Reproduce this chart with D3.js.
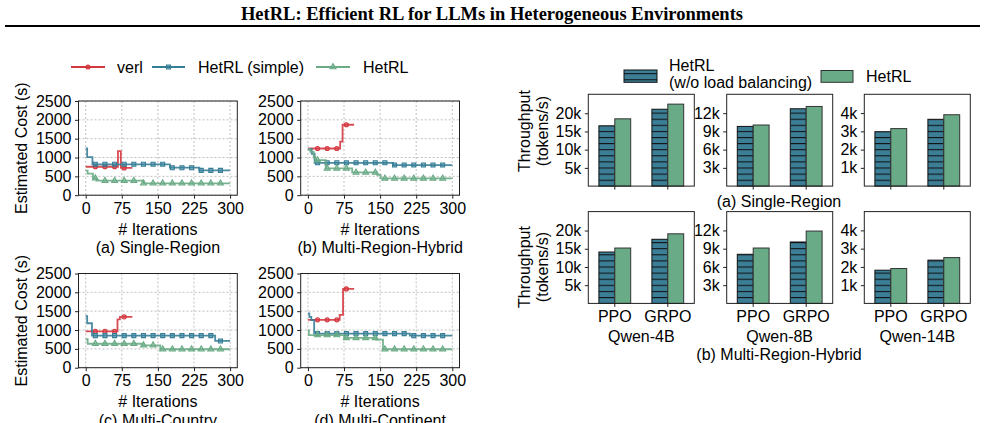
<!DOCTYPE html>
<html>
<head>
<meta charset="utf-8">
<script src="https://cdn.jsdelivr.net/npm/d3@7"></script>
<style>
  body { margin: 0; background: #fff; }
  svg { font-family: "Liberation Sans", Arial, Helvetica, sans-serif; }
</style>
</head>
<body>
<div id="chart"></div>
<script>
// ---- data ----
const titleText = "HetRL: Efficient RL for LLMs in Heterogeneous Environments";

const iterTicks = [0, 75, 150, 225, 300];
const costTicks = [0, 500, 1000, 1500, 2000, 2500];
const lineNames = ["verl", "HetRL (simple)", "HetRL"];
const lineColors = ["#d5373f", "#367e97", "#6aab86"];

// best-so-far cost as step change points [iteration, cost (s)], last point = end of run
const verlA   = [[0, 755], [67, 1170], [73, 725], [97, 725]];
const simpleA = [[0, 1240], [3, 1010], [14, 820], [175, 730], [236, 660], [300, 660]];
const hetrlA  = [[0, 650], [4, 570], [15, 450], [22, 385], [120, 315], [300, 315]];

const verlB   = [[0, 1240], [67, 1420], [72, 1870], [96, 1870]];
const simpleB = [[0, 1220], [8, 1100], [14, 860], [177, 800], [300, 800]];
const hetrlB  = [[0, 1220], [5, 1150], [12, 1000], [16, 930], [37, 710], [92, 605], [144, 540], [151, 445], [300, 445]];

const verlC   = [[0, 965], [66, 1280], [71, 1350], [97, 1350]];
const simpleC = [[0, 1370], [3, 1180], [13, 850], [269, 710], [300, 710]];
const hetrlC  = [[0, 755], [4, 635], [118, 595], [155, 490], [300, 490]];

const verlD   = [[0, 1270], [66, 1400], [73, 2090], [96, 2090]];
const simpleD = [[0, 1440], [3, 1350], [7, 1260], [13, 905], [212, 850], [300, 850]];
const hetrlD  = [[0, 990], [2, 866], [75, 790], [142, 745], [156, 490], [300, 490]];

// iterations that carry a marker
const verlMarks = [20, 40, 60, 80];
const otherMarks = [20, 40, 60, 80, 100, 120, 140, 160, 180, 200, 220, 240, 260, 280];

// throughput bars (tokens/s): [PPO, GRPO] per model
const models = ["Qwen-4B", "Qwen-8B", "Qwen-14B"];
const algos = ["PPO", "GRPO"];
const barNames = ["HetRL", "HetRL"];
const singleNoLB  = [[16550, 21100], [9820, 12720], [2980, 3660]];
const singleHetRL = [[18470, 22500], [10050, 13100], [3150, 3910]];
const hybridNoLB  = [[14100, 17600], [8080, 10100], [1820, 2370]];
const hybridHetRL = [[15200, 19100], [9110, 11900], [1910, 2510]];
const tpMax = [25200, 15100, 5030];
const tpTicks = [[5000, 10000, 15000, 20000], [3000, 6000, 9000, 12000], [1000, 2000, 3000, 4000]];
const tpTickLabels = [["5k", "10k", "15k", "20k"], ["3k", "6k", "9k", "12k"], ["1k", "2k", "3k", "4k"]];
const barColors = ["#3b7e95", "#6aab87"];

// ---- svg ----
const svg = d3.select("#chart").append("svg")
    .attr("width", 985)
    .attr("height", 423);

const defs = svg.append("defs");
const hatch = defs.append("pattern")
    .attr("id", "hatch")
    .attr("patternUnits", "userSpaceOnUse")
    .attr("width", 8)
    .attr("height", 6.1);
hatch.append("rect").attr("width", 8).attr("height", 6.1).attr("fill", barColors[0]);
hatch.append("line").attr("x1", 0).attr("x2", 8).attr("y1", 0.5).attr("y2", 0.5)
    .attr("stroke", "#111").attr("stroke-width", 1.1);

svg.append("text")
    .attr("x", 492).attr("y", 14).attr("dy", "0.35em")
    .attr("text-anchor", "middle")
    .style("font-family", "'Liberation Serif', 'Times New Roman', serif")
    .style("font-weight", "bold")
    .style("font-size", "18.5px")
    .text(titleText);

svg.append("line")
    .attr("x1", 5).attr("x2", 980).attr("y1", 26).attr("y2", 26)
    .attr("stroke", "#000").attr("stroke-width", 2);

const symbols = [d3.symbolCircle, d3.symbolSquare, d3.symbolTriangle];
const symSize = [13, 16, 15];

function stepValue(series, it) {
  let v = series[0][1];
  series.forEach(function(p) { if (p[0] <= it) v = p[1]; });
  return v;
}

function marker(g, i, x, y) {
  g.append("path")
    .attr("d", d3.symbol().type(symbols[i]).size(symSize[i])())
    .attr("transform", "translate(" + x + "," + y + ")")
    .attr("fill", lineColors[i])
    .attr("fill-opacity", 0.5)
    .attr("stroke", lineColors[i])
    .attr("stroke-width", 1.1);
}

// ---- line panels ----
const lw = 158.8, lh = 94.2;
const linePanels = [
  {left: 78.5, top: 101, label: "(a) Single-Region", ylab: true, data: [verlA, simpleA, hetrlA]},
  {left: 300.7, top: 101, label: "(b) Multi-Region-Hybrid", ylab: false, data: [verlB, simpleB, hetrlB]},
  {left: 78.5, top: 273.5, label: "(c) Multi-Country", ylab: true, data: [verlC, simpleC, hetrlC]},
  {left: 300.7, top: 273.5, label: "(d) Multi-Continent", ylab: false, data: [verlD, simpleD, hetrlD]}
];

linePanels.forEach(function(p) {
  const g = svg.append("g").attr("transform", "translate(" + p.left + "," + p.top + ")");
  const x = d3.scaleLinear().domain([-15, 315]).range([0, lw]);
  const y = d3.scaleLinear().domain([0, 2500]).range([lh, 0]);

  // grid
  g.selectAll(".gx").data(iterTicks).enter().append("line")
    .attr("x1", d => x(d)).attr("x2", d => x(d)).attr("y1", 0).attr("y2", lh)
    .attr("stroke", "#b0b0b0").attr("stroke-width", 0.8).attr("stroke-dasharray", "2,2");
  g.selectAll(".gy").data(costTicks).enter().append("line")
    .attr("x1", 0).attr("x2", lw).attr("y1", d => y(d)).attr("y2", d => y(d))
    .attr("stroke", "#b0b0b0").attr("stroke-width", 0.8).attr("stroke-dasharray", "2,2");

  const line = d3.line().curve(d3.curveStepAfter)
    .x(d => x(d[0])).y(d => y(d[1]));

  p.data.forEach(function(s, i) {
    g.append("path").datum(s)
      .attr("d", line)
      .attr("fill", "none")
      .attr("stroke", lineColors[i])
      .attr("stroke-width", 1.8)
      .attr("stroke-opacity", 0.9);
    const marks = i === 0 ? verlMarks : otherMarks;
    marks.forEach(function(it) { marker(g, i, x(it), y(stepValue(s, it))); });
  });

  g.append("rect").attr("width", lw).attr("height", lh)
    .attr("fill", "none").attr("stroke", "#222").attr("stroke-width", 1);

  const ya = g.append("g").call(d3.axisLeft(y).tickValues(costTicks).tickFormat(d3.format("d"))
    .tickSize(3.5).tickPadding(3.5));
  const xa = g.append("g").attr("transform", "translate(0," + lh + ")")
    .call(d3.axisBottom(x).tickValues(iterTicks).tickFormat(d3.format("d"))
      .tickSize(3.5).tickPadding(3.5));
  [ya, xa].forEach(function(a) {
    a.select(".domain").remove();
    a.selectAll("text").style("font-size", "16px").style("font-family", "'Liberation Sans', Arial, sans-serif").attr("fill", "#000");
    a.selectAll("line").attr("stroke", "#222");
  });

  g.append("text").attr("x", lw / 2).attr("y", lh + 34).attr("dy", "0.35em")
    .attr("text-anchor", "middle").style("font-size", "16px").text("# Iterations");
  g.append("text").attr("x", lw / 2).attr("y", lh + 52.5).attr("dy", "0.35em")
    .attr("text-anchor", "middle").style("font-size", "16px").text(p.label);

  if (p.ylab) {
    g.append("text")
      .attr("transform", "translate(" + (21 - p.left) + "," + (lh / 2) + ") rotate(-90)")
      .attr("dy", "0.35em")
      .attr("text-anchor", "middle").style("font-size", "16px")
      .text("Estimated Cost (s)");
  }
});

// line legend
const legX = [[71, 105, 117], [152, 185, 198], [316, 350, 363]];
lineNames.forEach(function(name, i) {
  const lg = svg.append("g");
  lg.append("line").attr("x1", legX[i][0]).attr("x2", legX[i][1]).attr("y1", 67).attr("y2", 67)
    .attr("stroke", lineColors[i]).attr("stroke-width", 1.8);
  marker(lg, i, (legX[i][0] + legX[i][1]) / 2, 67);
  lg.append("text").attr("x", legX[i][2]).attr("y", 67).attr("dy", "0.35em")
    .style("font-size", "16px").text(name);
});

// ---- bar panels ----
const bw = 106, bh = 91.8;
const barLefts = [588.3, 726.7, 864.3];
const barRows = [
  {top: 94.3, base: singleNoLB, het: singleHetRL, labels: false},
  {top: 211.6, base: hybridNoLB, het: hybridHetRL, labels: true}
];

barRows.forEach(function(r) {
  models.forEach(function(m, mi) {
    const g = svg.append("g").attr("transform", "translate(" + barLefts[mi] + "," + r.top + ")");
    const x = d3.scaleBand().domain(algos).range([0, bw]).padding(0);
    const y = d3.scaleLinear().domain([0, tpMax[mi]]).range([bh, 0]);
    const barW = x.bandwidth() * 0.3;

    [r.base[mi], r.het[mi]].forEach(function(vals, si) {
      g.selectAll(".b" + si).data(vals).enter().append("rect")
        .attr("x", (d, i) => x(algos[i]) + x.bandwidth() / 2 + (si === 0 ? -barW : 0))
        .attr("y", d => y(d))
        .attr("width", barW)
        .attr("height", d => bh - y(d))
        .attr("fill", si === 0 ? "url(#hatch)" : barColors[1])
        .attr("stroke", si === 0 ? "#111" : "#333")
        .attr("stroke-width", 1);
    });

    g.append("rect").attr("width", bw).attr("height", bh)
      .attr("fill", "none").attr("stroke", "#222").attr("stroke-width", 1);

    const ya = g.append("g").call(d3.axisLeft(y).tickValues(tpTicks[mi])
      .tickFormat((d, i) => tpTickLabels[mi][i]).tickSize(3.5).tickPadding(3.5));
    const xa = g.append("g").attr("transform", "translate(0," + bh + ")")
      .call(d3.axisBottom(x).tickSize(3.5).tickPadding(3.5).tickFormat(d => r.labels ? d : ""));
    [ya, xa].forEach(function(a) {
      a.select(".domain").remove();
      a.selectAll("text").style("font-size", "16px").style("font-family", "'Liberation Sans', Arial, sans-serif").attr("fill", "#000");
      a.selectAll("line").attr("stroke", "#222");
    });

    if (r.labels) {
      g.append("text").attr("x", bw / 2).attr("y", bh + 33).attr("dy", "0.35em")
        .attr("text-anchor", "middle").style("font-size", "16px").text(m);
    }
  });
});

// throughput y labels
[131, 267].forEach(function(cy) {
  svg.append("text").attr("transform", "translate(524.5," + cy + ") rotate(-90)")
    .attr("dy", "0.35em").attr("text-anchor", "middle").style("font-size", "16px").text("Throughput");
  svg.append("text").attr("transform", "translate(542," + cy + ") rotate(-90)")
    .attr("dy", "0.35em").attr("text-anchor", "middle").style("font-size", "16px").text("(tokens/s)");
});

svg.append("text").attr("x", 779).attr("y", 201.7).attr("dy", "0.35em")
  .attr("text-anchor", "middle").style("font-size", "16px").text("(a) Single-Region");
svg.append("text").attr("x", 779).attr("y", 354).attr("dy", "0.35em")
  .attr("text-anchor", "middle").style("font-size", "16px").text("(b) Multi-Region-Hybrid");

// bar legend
svg.append("rect").attr("x", 624).attr("y", 70).attr("width", 33).attr("height", 12.3)
  .attr("fill", "url(#hatch)").attr("stroke", "#111").attr("stroke-width", 1);
svg.append("text").attr("x", 669).attr("y", 65).attr("dy", "0.35em").style("font-size", "16px").text(barNames[0]);
svg.append("text").attr("x", 669).attr("y", 82).attr("dy", "0.35em").style("font-size", "16px").text("(w/o load balancing)");
svg.append("rect").attr("x", 821).attr("y", 70.5).attr("width", 32).attr("height", 11.8)
  .attr("fill", barColors[1]).attr("stroke", "#333").attr("stroke-width", 1);
svg.append("text").attr("x", 866).attr("y", 76.5).attr("dy", "0.35em").style("font-size", "16px").text(barNames[1]);
</script>
</body>
</html>
